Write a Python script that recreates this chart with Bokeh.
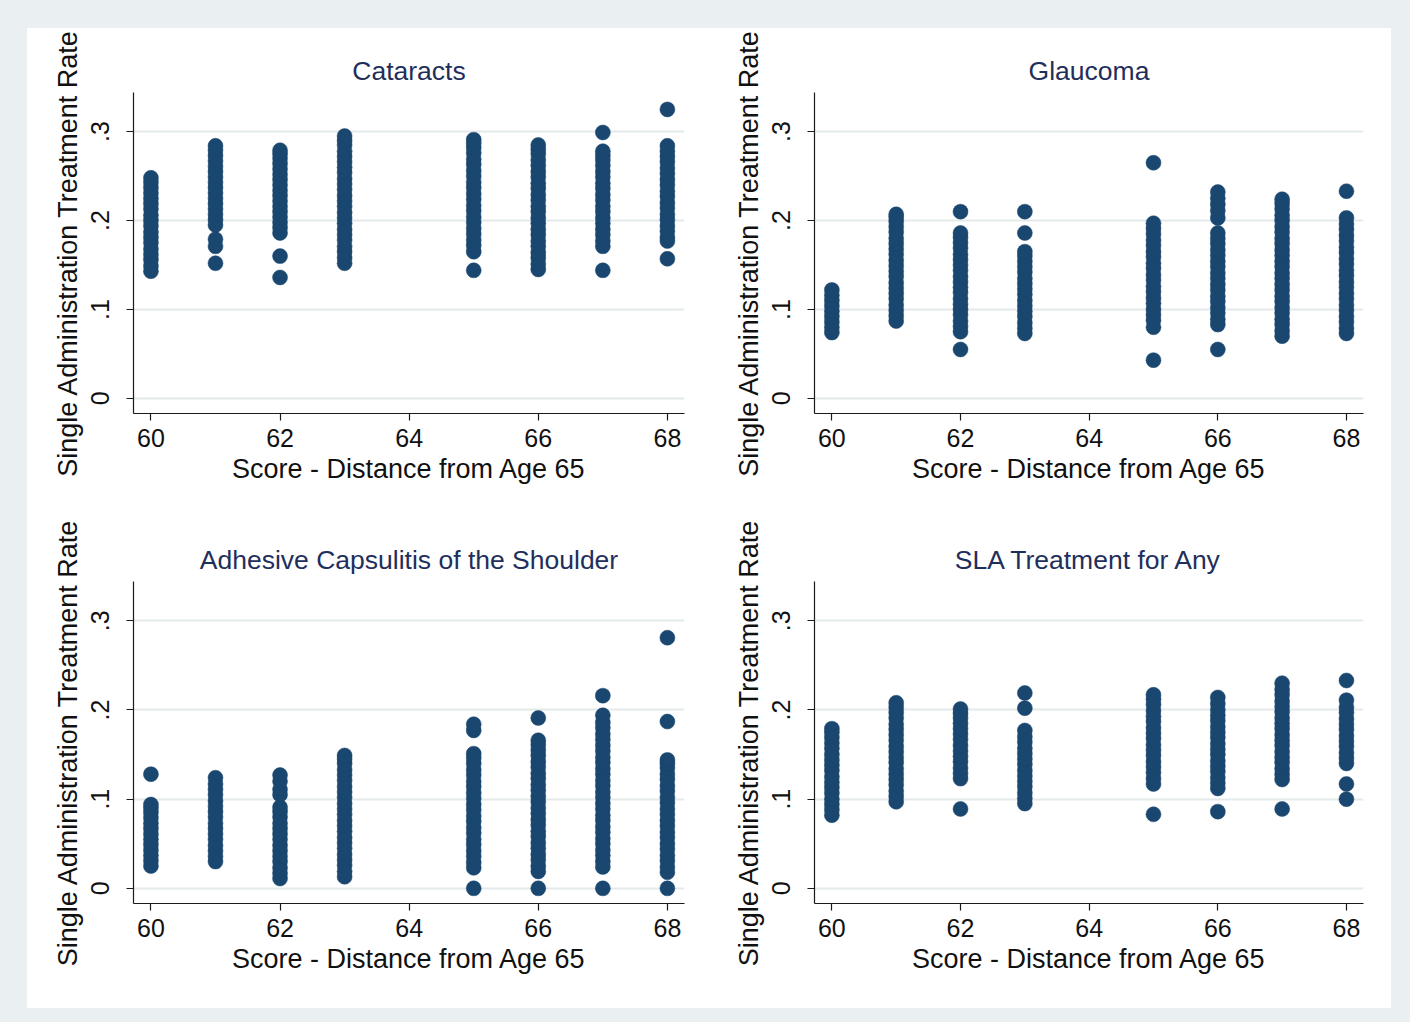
from bokeh.plotting import figure
from bokeh.layouts import gridplot, column, row
from bokeh.models import Spacer, FixedTicker
from bokeh.embed import file_html
from bokeh.resources import INLINE

# Score (distance from age 65) at which each column of points is drawn
scores = [60, 61, 62, 63, 65, 66, 67, 68]

# Single administration treatment rates, one list per score
cataracts = [
    [0.143, 0.149, 0.156, 0.162, 0.168, 0.175, 0.181, 0.187, 0.194, 0.200, 0.206, 0.213, 0.219, 0.225, 0.231, 0.237, 0.243, 0.248],
    [0.152, 0.171, 0.179, 0.195, 0.201, 0.207, 0.213, 0.219, 0.225, 0.231, 0.237, 0.243, 0.249, 0.255, 0.261, 0.267, 0.273, 0.279, 0.284],
    [0.136, 0.160, 0.186, 0.192, 0.198, 0.204, 0.210, 0.216, 0.222, 0.228, 0.234, 0.240, 0.246, 0.252, 0.258, 0.264, 0.270, 0.275, 0.279],
    [0.152, 0.158, 0.165, 0.171, 0.178, 0.184, 0.190, 0.197, 0.203, 0.209, 0.216, 0.222, 0.228, 0.235, 0.241, 0.247, 0.254, 0.260, 0.266, 0.272, 0.278, 0.285, 0.290, 0.295],
    [0.144, 0.165, 0.172, 0.178, 0.185, 0.191, 0.198, 0.204, 0.211, 0.217, 0.224, 0.230, 0.237, 0.243, 0.250, 0.256, 0.263, 0.269, 0.276, 0.282, 0.287, 0.291],
    [0.145, 0.151, 0.158, 0.164, 0.171, 0.177, 0.184, 0.190, 0.197, 0.203, 0.210, 0.216, 0.223, 0.229, 0.236, 0.242, 0.249, 0.255, 0.262, 0.268, 0.275, 0.280, 0.285],
    [0.144, 0.171, 0.177, 0.184, 0.190, 0.197, 0.203, 0.210, 0.216, 0.223, 0.229, 0.236, 0.242, 0.249, 0.255, 0.262, 0.268, 0.273, 0.278, 0.299],
    [0.157, 0.177, 0.181, 0.188, 0.194, 0.201, 0.207, 0.214, 0.220, 0.227, 0.233, 0.240, 0.246, 0.253, 0.259, 0.266, 0.272, 0.278, 0.284, 0.325],
]

glaucoma = [
    [0.074, 0.080, 0.086, 0.092, 0.098, 0.104, 0.110, 0.116, 0.122],
    [0.087, 0.093, 0.099, 0.105, 0.112, 0.118, 0.124, 0.130, 0.137, 0.143, 0.149, 0.155, 0.162, 0.168, 0.174, 0.180, 0.187, 0.193, 0.199, 0.204, 0.207],
    [0.055, 0.075, 0.081, 0.087, 0.094, 0.100, 0.106, 0.112, 0.119, 0.125, 0.131, 0.137, 0.144, 0.150, 0.156, 0.162, 0.169, 0.175, 0.181, 0.186, 0.210],
    [0.073, 0.079, 0.085, 0.092, 0.098, 0.104, 0.110, 0.117, 0.123, 0.129, 0.135, 0.142, 0.148, 0.154, 0.160, 0.165, 0.186, 0.210],
    [0.043, 0.080, 0.088, 0.094, 0.100, 0.107, 0.113, 0.120, 0.126, 0.133, 0.139, 0.146, 0.152, 0.159, 0.165, 0.172, 0.178, 0.185, 0.191, 0.197, 0.265],
    [0.055, 0.083, 0.089, 0.096, 0.102, 0.109, 0.115, 0.122, 0.128, 0.135, 0.141, 0.148, 0.154, 0.161, 0.167, 0.174, 0.180, 0.186, 0.203, 0.211, 0.218, 0.225, 0.232],
    [0.070, 0.076, 0.083, 0.089, 0.096, 0.102, 0.109, 0.115, 0.122, 0.128, 0.135, 0.141, 0.148, 0.154, 0.161, 0.167, 0.174, 0.180, 0.187, 0.193, 0.200, 0.206, 0.213, 0.219, 0.224],
    [0.073, 0.079, 0.086, 0.092, 0.099, 0.105, 0.112, 0.118, 0.125, 0.131, 0.138, 0.144, 0.151, 0.157, 0.164, 0.170, 0.177, 0.183, 0.190, 0.196, 0.203, 0.233],
]

capsulitis = [
    [0.025, 0.031, 0.037, 0.043, 0.049, 0.055, 0.061, 0.067, 0.073, 0.079, 0.085, 0.090, 0.094, 0.128],
    [0.030, 0.036, 0.042, 0.048, 0.055, 0.061, 0.067, 0.073, 0.080, 0.086, 0.092, 0.098, 0.105, 0.111, 0.117, 0.124],
    [0.011, 0.017, 0.023, 0.030, 0.036, 0.042, 0.048, 0.055, 0.061, 0.067, 0.073, 0.080, 0.086, 0.091, 0.105, 0.111, 0.120, 0.127],
    [0.013, 0.019, 0.026, 0.032, 0.038, 0.045, 0.051, 0.057, 0.064, 0.070, 0.076, 0.083, 0.089, 0.095, 0.102, 0.108, 0.114, 0.121, 0.127, 0.133, 0.140, 0.145, 0.149],
    [0.000, 0.023, 0.029, 0.036, 0.042, 0.049, 0.055, 0.062, 0.068, 0.075, 0.081, 0.088, 0.094, 0.101, 0.107, 0.114, 0.120, 0.127, 0.133, 0.140, 0.146, 0.151, 0.177, 0.184],
    [0.000, 0.019, 0.025, 0.032, 0.038, 0.045, 0.051, 0.058, 0.064, 0.071, 0.077, 0.084, 0.090, 0.097, 0.103, 0.110, 0.116, 0.123, 0.129, 0.136, 0.142, 0.149, 0.155, 0.161, 0.166, 0.191],
    [0.000, 0.024, 0.030, 0.037, 0.043, 0.050, 0.056, 0.063, 0.069, 0.076, 0.082, 0.089, 0.095, 0.102, 0.108, 0.115, 0.121, 0.128, 0.134, 0.141, 0.147, 0.154, 0.160, 0.167, 0.173, 0.180, 0.186, 0.194, 0.216],
    [0.000, 0.018, 0.024, 0.031, 0.037, 0.044, 0.050, 0.057, 0.063, 0.070, 0.076, 0.083, 0.089, 0.096, 0.102, 0.109, 0.115, 0.122, 0.128, 0.135, 0.140, 0.144, 0.187, 0.281],
]

sla_any = [
    [0.082, 0.088, 0.094, 0.100, 0.107, 0.113, 0.119, 0.125, 0.132, 0.138, 0.144, 0.150, 0.157, 0.163, 0.169, 0.175, 0.179],
    [0.097, 0.103, 0.109, 0.116, 0.122, 0.128, 0.134, 0.141, 0.147, 0.153, 0.159, 0.166, 0.172, 0.178, 0.184, 0.191, 0.197, 0.203, 0.208],
    [0.089, 0.123, 0.129, 0.135, 0.142, 0.148, 0.154, 0.160, 0.167, 0.173, 0.179, 0.185, 0.191, 0.196, 0.201],
    [0.095, 0.101, 0.107, 0.114, 0.120, 0.126, 0.132, 0.139, 0.145, 0.151, 0.157, 0.164, 0.170, 0.177, 0.202, 0.219],
    [0.083, 0.117, 0.123, 0.130, 0.136, 0.142, 0.149, 0.155, 0.161, 0.168, 0.174, 0.180, 0.187, 0.193, 0.199, 0.206, 0.212, 0.217],
    [0.086, 0.112, 0.118, 0.124, 0.131, 0.137, 0.143, 0.150, 0.156, 0.162, 0.169, 0.175, 0.181, 0.188, 0.194, 0.200, 0.207, 0.214],
    [0.089, 0.122, 0.128, 0.134, 0.141, 0.147, 0.153, 0.160, 0.166, 0.172, 0.179, 0.185, 0.191, 0.198, 0.204, 0.210, 0.217, 0.223, 0.230],
    [0.100, 0.117, 0.140, 0.146, 0.152, 0.159, 0.165, 0.171, 0.178, 0.184, 0.190, 0.197, 0.203, 0.211, 0.233],
]

panel_titles = ["Cataracts", "Glaucoma", "Adhesive Capsulitis of the Shoulder", "SLA Treatment for Any"]
x_ticks = [60, 62, 64, 66, 68]
y_ticks = [0, 0.1, 0.2, 0.3]
y_tick_labels = ["0", ".1", ".2", ".3"]
x_title = "Score - Distance from Age 65"
y_title = "Single Administration Treatment Rate"

FONT = "Liberation Sans"
MARKER = "#1a476f"
TITLE_COLOR = "#1f2f5c"
FRAME_BG = "#eaf0f2"


def make_panel(title, rates, width, height, left, right, top, bottom):
    xs, ys = [], []
    for s, col in zip(scores, rates):
        xs.extend([s] * len(col))
        ys.extend(col)

    p = figure(width=width, height=height,
               x_range=(59.73, 68.265), y_range=(-0.017, 0.344),
               output_backend="svg", toolbar_location=None, tools="",
               min_border_left=left, min_border_right=right,
               min_border_top=top, min_border_bottom=bottom)
    p.scatter(xs, ys, size=15, fill_color=MARKER, line_color=MARKER, line_width=0.5)

    p.title.text = title
    p.title.align = "center"
    p.title.text_font = FONT
    p.title.text_font_size = "26.5px"
    p.title.text_font_style = "normal"
    p.title.text_color = TITLE_COLOR
    p.title.standoff = 13

    p.background_fill_color = "white"
    p.border_fill_color = "white"
    p.outline_line_color = None

    p.xgrid.grid_line_color = None
    p.ygrid.grid_line_color = "#e4e9ea"
    p.ygrid.grid_line_width = 2

    p.xaxis.ticker = FixedTicker(ticks=x_ticks)
    p.yaxis.ticker = FixedTicker(ticks=y_ticks)
    p.yaxis.major_label_overrides = {t: l for t, l in zip(y_ticks, y_tick_labels)}
    p.yaxis.major_label_orientation = "vertical"

    p.xaxis.axis_label = x_title
    p.yaxis.axis_label = y_title

    for ax in (p.xaxis, p.yaxis):
        ax.axis_line_color = "#1a1a1a"
        ax.axis_line_width = 1.2
        ax.major_tick_line_color = "#1a1a1a"
        ax.major_tick_line_width = 1.2
        ax.major_tick_in = 0
        ax.major_tick_out = 7
        ax.minor_tick_line_color = None
        ax.major_label_text_font = FONT
        ax.major_label_text_font_size = "25px"
        ax.major_label_text_color = "#111111"
        ax.axis_label_text_font = FONT
        ax.axis_label_text_font_size = "27px"
        ax.axis_label_text_font_style = "normal"
        ax.axis_label_text_color = "#111111"
        ax.axis_label_standoff = 4
    p.xaxis.major_label_standoff = 8
    p.yaxis.major_label_standoff = 17
    p.yaxis.axis_label_standoff = 6
    return p


p1 = make_panel(panel_titles[0], cataracts, 678, 490, 106, 21, 64, 105)
p2 = make_panel(panel_titles[1], glaucoma, 686, 490, 109, 28, 64, 105)
p3 = make_panel(panel_titles[2], capsulitis, 678, 490, 106, 21, 63, 105)
p4 = make_panel(panel_titles[3], sla_any, 686, 490, 109, 28, 63, 105)

grid = gridplot([[p1, p2], [p3, p4]], toolbar_location=None)
grid.styles = {"background-color": "white"}

page = column(
    Spacer(width=1410, height=28, styles={"background-color": FRAME_BG}),
    row(Spacer(width=27, height=980, styles={"background-color": FRAME_BG}),
        grid,
        Spacer(width=19, height=980, styles={"background-color": FRAME_BG})),
    Spacer(width=1410, height=14, styles={"background-color": FRAME_BG}),
    styles={"background-color": FRAME_BG},
)

open("out.html", "w").write(file_html(page, INLINE))
